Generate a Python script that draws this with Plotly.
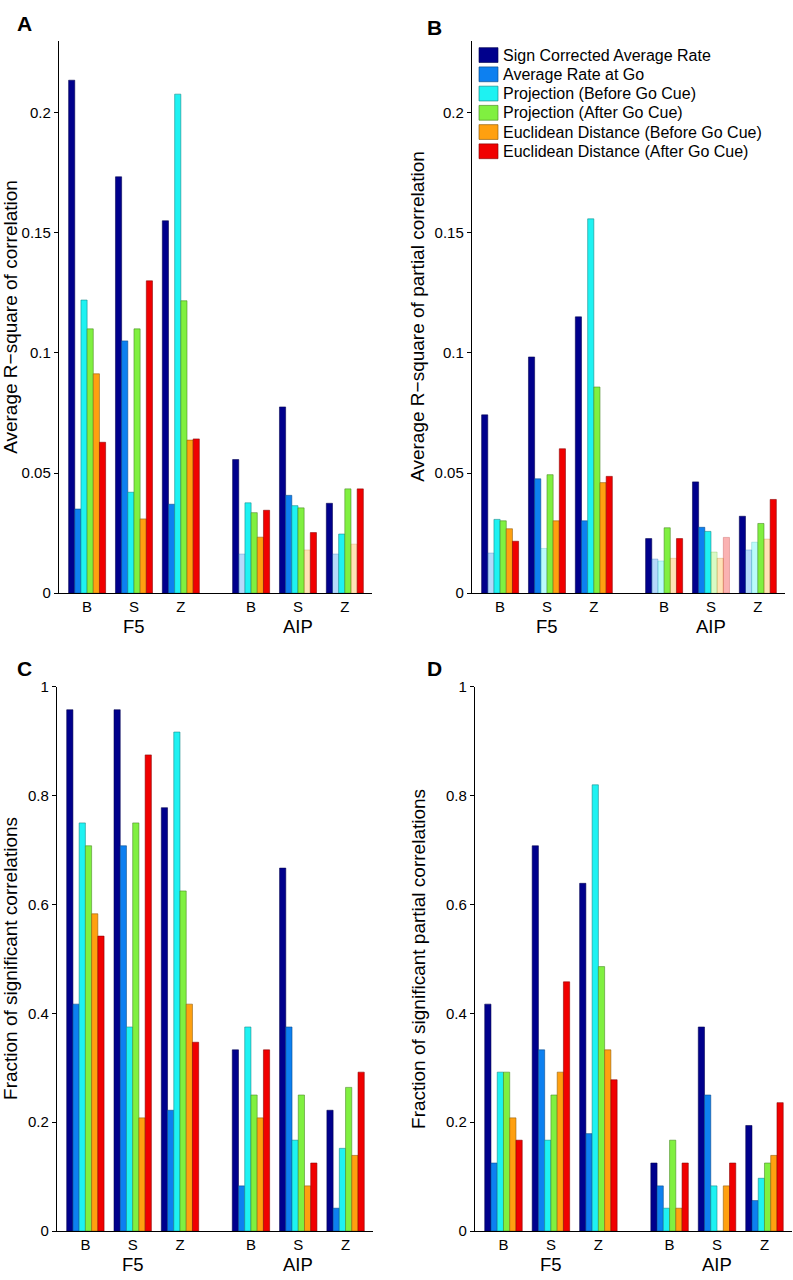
import plotly.graph_objects as go

# ---------------- data ----------------
series_names = [
    "Sign Corrected Average Rate",
    "Average Rate at Go",
    "Projection (Before Go Cue)",
    "Projection (After Go Cue)",
    "Euclidean Distance (Before Go Cue)",
    "Euclidean Distance (After Go Cue)",
]
conditions = ["B", "S", "Z", "B", "S", "Z"]
areas = ["F5", "AIP"]

# Panel A: average R-square of correlation (rows = series, cols = conditions)
r2_corr = [
    [0.2135, 0.1733, 0.155, 0.0556, 0.0775, 0.0374],
    [0.035, 0.105, 0.037, 0.0163, 0.0407, 0.0163],
    [0.122, 0.042, 0.2077, 0.0376, 0.0364, 0.0246],
    [0.110, 0.110, 0.1217, 0.0335, 0.0355, 0.0434],
    [0.0913, 0.0309, 0.0637, 0.0233, 0.018, 0.0204],
    [0.0628, 0.130, 0.0642, 0.0345, 0.0252, 0.0434],
]
# 1 = not significant (drawn faded)
r2_corr_ns = [
    [0, 0, 0, 0, 0, 0],
    [0, 0, 0, 1, 0, 1],
    [0, 0, 0, 0, 0, 0],
    [0, 0, 0, 0, 0, 0],
    [0, 0, 0, 0, 1, 1],
    [0, 0, 0, 0, 0, 0],
]
# Panel B: average R-square of partial correlation
r2_partial = [
    [0.0742, 0.0983, 0.115, 0.0227, 0.0463, 0.032],
    [0.0167, 0.0476, 0.0301, 0.0142, 0.0274, 0.018],
    [0.0307, 0.0186, 0.1558, 0.0134, 0.0257, 0.0212],
    [0.0301, 0.0493, 0.0858, 0.0272, 0.0171, 0.029],
    [0.0268, 0.0301, 0.046, 0.0145, 0.0145, 0.0225],
    [0.0216, 0.0601, 0.0486, 0.0227, 0.0232, 0.039],
]
r2_partial_ns = [
    [0, 0, 0, 0, 0, 0],
    [1, 0, 0, 1, 0, 1],
    [0, 1, 0, 1, 0, 1],
    [0, 0, 0, 0, 1, 0],
    [0, 0, 0, 1, 1, 1],
    [0, 0, 0, 0, 1, 0],
]
# Panel C: fraction of significant correlations
frac_corr = [
    [0.958, 0.958, 0.778, 0.333, 0.667, 0.222],
    [0.417, 0.708, 0.222, 0.083, 0.375, 0.042],
    [0.75, 0.375, 0.917, 0.375, 0.167, 0.152],
    [0.708, 0.75, 0.625, 0.25, 0.25, 0.264],
    [0.583, 0.208, 0.417, 0.208, 0.083, 0.139],
    [0.542, 0.875, 0.347, 0.333, 0.125, 0.292],
]
# Panel D: fraction of significant partial correlations
frac_partial = [
    [0.417, 0.708, 0.639, 0.125, 0.375, 0.194],
    [0.125, 0.333, 0.179, 0.083, 0.25, 0.056],
    [0.292, 0.167, 0.82, 0.042, 0.083, 0.097],
    [0.292, 0.25, 0.486, 0.167, 0.0, 0.125],
    [0.208, 0.292, 0.333, 0.042, 0.083, 0.139],
    [0.167, 0.458, 0.278, 0.125, 0.125, 0.236],
]

y_titles = [
    "Average R\u2212square of correlation",
    "Average R\u2212square of partial correlation",
    "Fraction of significant correlations",
    "Fraction of significant partial correlations",
]
panel_letters = ["A", "B", "C", "D"]
r2_ticks = [0, 0.05, 0.1, 0.15, 0.2]
r2_ticktext = ["0", "0.05", "0.1", "0.15", "0.2"]
frac_ticks = [0, 0.2, 0.4, 0.6, 0.8, 1]
frac_ticktext = ["0", "0.2", "0.4", "0.6", "0.8", "1"]

# ---------------- styling ----------------
colors_rgb = [(0, 0, 140), (13, 128, 240), (30, 242, 242), (128, 240, 64), (255, 160, 16), (240, 0, 0)]
FONT = "Liberation Sans, Arial, Helvetica, sans-serif"
W, H = 793, 1280

# x positions: conditions per area, with a wider gap between the two areas
xpos = [i + 1 + (0.5 if i >= 3 else 0) for i in range(len(conditions))]

panels = [
    dict(data=r2_corr, ns=r2_corr_ns, px=(59, 372), py=(32, 592), yr=0.23,
         ticks=r2_ticks, ttext=r2_ticktext, tx=11, lx=24, ly=15),
    dict(data=r2_partial, ns=r2_partial_ns, px=(472, 785), py=(32, 592), yr=0.23,
         ticks=r2_ticks, ttext=r2_ticktext, tx=418, lx=434, ly=19),
    dict(data=frac_corr, ns=None, px=(57, 373), py=(687, 1238.5), yr=1.0,
         ticks=frac_ticks, ttext=frac_ticktext, tx=11, lx=24, ly=668),
    dict(data=frac_partial, ns=None, px=(475, 792), py=(687, 1238.5), yr=1.0,
         ticks=frac_ticks, ttext=frac_ticktext, tx=419, lx=434, ly=668),
]


def rgb(c, a=1.0):
    return f"rgba({c[0]},{c[1]},{c[2]},{a})"


def dark(c, f=0.55):
    return tuple(int(v * f) for v in c)


fig = go.Figure()
layout = dict(
    width=W, height=H, autosize=False, margin=dict(l=0, r=0, t=0, b=0),
    paper_bgcolor="white", plot_bgcolor="white",
    barmode="group", bargap=0.21, bargroupgap=0,
    font=dict(family=FONT, size=15, color="black"),
    showlegend=False,
)
annotations = []
shapes = []

for p, pan in enumerate(panels):
    ax = "" if p == 0 else str(p + 1)
    for s in range(6):
        c = colors_rgb[s]
        fills, lines = [], []
        for j in range(6):
            faded = pan["ns"] is not None and pan["ns"][s][j]
            if faded:
                fills.append(rgb(c, 0.3))
                lines.append(rgb(dark(c, 0.7), 0.35))
            else:
                fills.append(rgb(c))
                lines.append(rgb(dark(c), 0.8))
        fig.add_trace(go.Bar(
            x=xpos, y=pan["data"][s], name=series_names[s],
            marker=dict(color=fills, line=dict(color=lines, width=0.7)),
            xaxis="x" + ax, yaxis="y" + ax,
        ))
    x0, x1 = pan["px"]
    ytop, ybot = pan["py"]
    layout["xaxis" + ax] = dict(
        domain=[x0 / W, x1 / W], range=[0.4, 7.08], anchor="y" + ax,
        tickvals=xpos, ticktext=conditions, ticks="", showline=True, linecolor="black",
        linewidth=1.2, showgrid=False, zeroline=False, tickfont=dict(size=15, family=FONT),
    )
    layout["yaxis" + ax] = dict(
        domain=[(H - ybot) / H, (H - ytop) / H], range=[0, pan["yr"]], anchor="x" + ax,
        tickvals=pan["ticks"], ticktext=pan["ttext"], ticks="outside", ticklen=4,
        tickcolor="black", showline=True, linecolor="black", linewidth=1.2,
        showgrid=False, zeroline=False, tickfont=dict(size=15, family=FONT),
    )
    # area labels under the conditions
    for a, area in enumerate(areas):
        annotations.append(dict(
            x=xpos[3 * a + 1], xref="x" + ax, y=(H - ybot - 34) / H, yref="paper",
            text=area, showarrow=False, font=dict(size=18.5, family=FONT),
            xanchor="center", yanchor="middle",
        ))
    # y-axis title
    annotations.append(dict(
        x=pan["tx"] / W, xref="paper", y=(H - (ytop + ybot) / 2) / H, yref="paper",
        text=y_titles[p], textangle=-90, showarrow=False,
        font=dict(size=19, family=FONT), xanchor="center", yanchor="middle",
    ))
    # panel letter
    annotations.append(dict(
        x=pan["lx"] / W, xref="paper", y=(H - pan["ly"]) / H, yref="paper",
        text="<b>" + panel_letters[p] + "</b>", showarrow=False,
        font=dict(size=21, family=FONT), xanchor="center", yanchor="middle",
    ))

# legend (inside panel B, top-left)
for s, name in enumerate(series_names):
    yc = 46.7 + 19.5 * s
    c = colors_rgb[s]
    shapes.append(dict(
        type="rect", xref="paper", yref="paper",
        x0=479 / W, x1=498 / W, y0=(H - yc - 7.5) / H, y1=(H - yc + 7.5) / H,
        fillcolor=rgb(c), line=dict(color=rgb(dark(c), 0.8), width=0.8),
    ))
    annotations.append(dict(
        x=501 / W, xref="paper", y=(H - yc) / H, yref="paper", text=name,
        showarrow=False, font=dict(size=16, family=FONT),
        xanchor="left", yanchor="middle",
    ))

layout["annotations"] = annotations
layout["shapes"] = shapes
fig.update_layout(**layout)
fig.write_html(
    "out.html",
    config={"responsive": False, "displayModeBar": False, "staticPlot": True},
    post_script="document.body.style.margin='0';document.documentElement.style.overflow='hidden';",
)
